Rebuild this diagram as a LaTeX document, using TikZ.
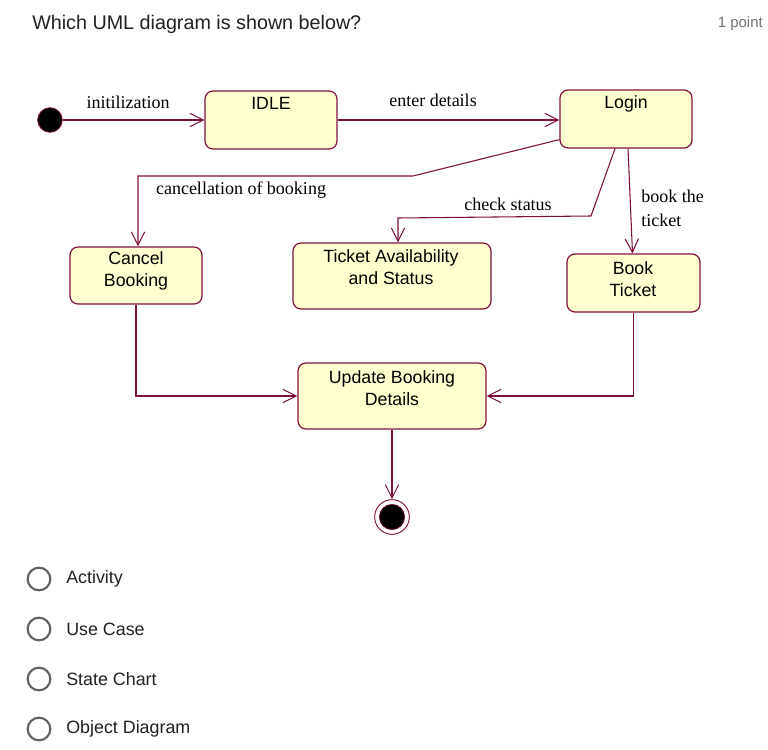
\documentclass[tikz,border=0pt]{standalone}
\usepackage{fontspec}
\setmainfont{Liberation Serif}
\setsansfont{Liberation Sans}
\usetikzlibrary{arrows.meta,fit,calc}
\definecolor{umlline}{RGB}{128,16,64}
\definecolor{umlfill}{RGB}{255,255,208}
\definecolor{qtext}{RGB}{32,33,36}
\definecolor{qgray}{RGB}{95,99,104}
\definecolor{ptgray}{RGB}{112,117,122}
\tikzset{
 conn/.style={draw=umlline, line width=0.8pt, -{Straight Barb[length=10pt,width=10pt,line width=0.8pt]}},
 statebox/.style={draw=umlline, fill=umlfill, rounded corners=6pt, line width=0.9pt, inner sep=0pt},
 statetext/.style={font=\sffamily\fontsize{13.3}{16.5}\selectfont, align=center, text=black, inner sep=0pt},
 trlabel/.style={font=\rmfamily\fontsize{13.5}{18}\selectfont, text=black, inner sep=0pt, align=left},
 radio/.style={circle, draw=qgray, line width=1.6pt, minimum size=17pt, inner sep=0pt},
 opttext/.style={font=\sffamily\fontsize{13.4}{16}\selectfont, text=qtext, anchor=west, inner sep=0pt},
}
\begin{document}
\begin{tikzpicture}[x=0.75pt,y=-0.75pt]
\useasboundingbox (0,0) rectangle (768,750);
\fill[white] (0,0) rectangle (768,750);
% header
\node[anchor=west, inner sep=0pt, font=\sffamily\fontsize{14.8}{18}\selectfont, text=qtext] (title) at (32,24) {Which UML diagram is shown below?};
\node[anchor=east, inner sep=0pt, font=\sffamily\fontsize{11.2}{14}\selectfont, text=ptgray] (points) at (763,24) {1 point};
% states
\node[statebox, fit={(205,91) (337,149)}] (idle) {};
\node[statebox, fit={(560,90) (692,148)}] (login) {};
\node[statebox, fit={(70,247) (202,304)}] (cancel) {};
\node[statebox, fit={(293,243) (491,309)}] (ticket) {};
\node[statebox, fit={(567,254) (700,312)}] (book) {};
\node[statebox, fit={(298,363) (486,429)}] (update) {};
\node[statetext] (idle-t) at (271,103) {IDLE};
\node[statetext] (login-t) at (626,104) {Login};
\node[statetext] (cancel-t) at (136,271) {Cancel\\Booking};
\node[statetext] (ticket-t) at (391,267) {Ticket Availability\\and Status};
\node[statetext] (book-t) at (633,279) {Book\\Ticket};
\node[statetext] (update-t) at (392,388) {Update Booking\\Details};
% pseudo states
\node[circle, fill=black, draw=umlline, line width=0.6pt, minimum size=18.5pt, inner sep=0pt] (init) at (50,120) {};
\node[circle, fill=white, draw=umlline, line width=0.7pt, minimum size=26pt, inner sep=0pt] (final) at (392,517) {};
\node[circle, fill=black, draw=umlline, line width=0.5pt, minimum size=19pt, inner sep=0pt] (final-in) at (392,517) {};
% transitions
\draw[conn] (init) -- (init -| idle.west);
\draw[conn] (idle.east) -- (idle.east -| login.west);
\coordinate (c1) at ($(login.south west)+(0,-9)$);
\coordinate (c2) at (413,176);
\coordinate (c3) at (138,176);
\draw[conn] (c1) -- (c2) -- (c3) -- (c3 |- cancel.north);
\coordinate (s1) at ($(login.south)+(-11,0)$);
\coordinate (s2) at (591,216);
\coordinate (s3) at (398,218);
\draw[conn] (s1) -- (s2) -- (s3) -- (s3 |- ticket.north);
\coordinate (b1) at ($(login.south)+(2,0)$);
\draw[conn] (b1) -- ($(book.north)+(-1,0)$);
\draw[conn] (cancel.south) -- (cancel.south |- update.west) -- (update.west);
\draw[conn] (book.south) -- (book.south |- update.east) -- (update.east);
\draw[conn] (update.south) -- (final.north);
% labels
\node[trlabel] (l-init) at (128,102) {initilization};
\node[trlabel] (l-enter) at (433,100) {enter details};
\node[trlabel] (l-cancel) at (241,190) {cancellation of booking};
\node[trlabel] (l-check) at (508,204) {check status};
\node[trlabel, anchor=north west] (l-book) at (641,190) {book the\\ticket};
% options
\node[radio] (r1) at (39,579) {};
\node[radio] (r2) at (39,629) {};
\node[radio] (r3) at (39,679) {};
\node[radio] (r4) at (39,729) {};
\node[opttext] (o1) at (66,579) {Activity};
\node[opttext] (o2) at (66,629) {Use Case};
\node[opttext] (o3) at (66,679) {State Chart};
\node[opttext] (o4) at (66,729) {Object Diagram};
\end{tikzpicture}
\end{document}
